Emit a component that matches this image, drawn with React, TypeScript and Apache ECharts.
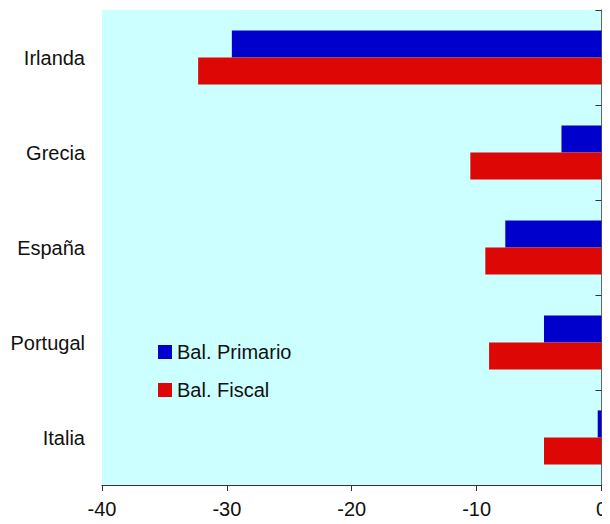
import React, { useEffect, useRef } from "react";
import * as echarts from "echarts";

const categories = ["Irlanda", "Grecia", "España", "Portugal", "Italia"];
const balPrimario = [-29.6, -3.2, -7.7, -4.6, -0.3];
const balFiscal = [-32.3, -10.5, -9.3, -9.0, -4.6];
const xTicks = { min: -40, max: 0, interval: 10 };

export default function App() {
  const ref = useRef<HTMLDivElement>(null);
  useEffect(() => {
    if (!ref.current) return;
    const chart = echarts.init(ref.current, null, { renderer: "svg" });
    const font = "Liberation Sans, Arial, sans-serif";
    chart.setOption({
      animation: false,
      backgroundColor: "#ffffff",
      grid: {
        left: 102,
        right: 7,
        top: 10,
        bottom: 39,
        show: true,
        backgroundColor: "#CCFFFF",
        borderWidth: 0,
      },
      legend: {
        orient: "vertical",
        left: 158,
        top: 342,
        padding: 0,
        itemWidth: 14,
        itemHeight: 14,
        itemGap: 18,
        icon: "rect",
        textStyle: { fontFamily: font, fontSize: 20, color: "#111" },
        data: ["Bal. Primario", "Bal. Fiscal"],
      },
      xAxis: {
        type: "value",
        min: xTicks.min,
        max: xTicks.max,
        interval: xTicks.interval,
        splitLine: { show: false },
        axisLine: { show: true, lineStyle: { color: "#333", width: 1 } },
        axisTick: { show: true, length: 6, lineStyle: { color: "#333" } },
        axisLabel: { fontFamily: font, fontSize: 20, color: "#111", margin: 14 },
      },
      yAxis: [
        {
          type: "category",
          data: categories,
          inverse: true,
          position: "left",
          axisLine: { show: false },
          axisTick: { show: false },
          axisLabel: { fontFamily: font, fontSize: 20, color: "#111", margin: 17 },
        },
        {
          type: "category",
          data: categories,
          inverse: true,
          position: "right",
          axisLine: { show: true, lineStyle: { color: "#333", width: 1.5 } },
          axisTick: { show: true, inside: true, length: 6, lineStyle: { color: "#333" } },
          axisLabel: { show: false },
        },
      ],
      series: [
        {
          name: "Bal. Primario",
          type: "bar",
          yAxisIndex: 0,
          data: balPrimario,
          itemStyle: { color: "#0000CC" },
          barGap: "0%",
          barCategoryGap: "43%",
        },
        {
          name: "Bal. Fiscal",
          type: "bar",
          yAxisIndex: 0,
          data: balFiscal,
          itemStyle: { color: "#DD0806" },
          barGap: "0%",
          barCategoryGap: "43%",
        },
      ],
    });
    return () => chart.dispose();
  }, []);
  return <div ref={ref} style={{ width: 610, height: 524, margin: -8 }} />;
}
